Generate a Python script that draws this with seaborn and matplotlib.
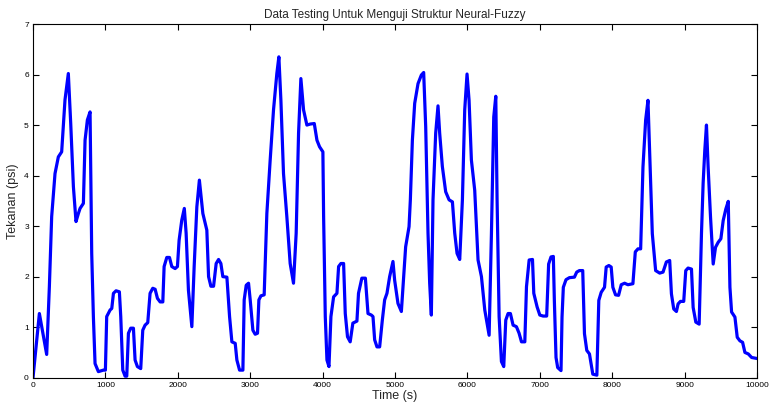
import matplotlib
matplotlib.use("Agg")
import matplotlib.pyplot as plt
import seaborn as sns
import pandas as pd

# Pressure test record (time in seconds, pressure in psi)
time_s = [
    0, 88, 189, 226, 258, 304, 350, 396, 442, 488,
    521, 558, 594, 627, 650, 696, 719, 751, 788, 811,
    834, 857, 903, 972, 1000, 1018, 1065, 1088, 1111, 1147,
    1193, 1212, 1240, 1272, 1295, 1318, 1350, 1387, 1410, 1442,
    1488, 1516, 1548, 1585, 1617, 1654, 1687, 1719, 1756, 1793,
    1811, 1848, 1885, 1917, 1963, 1995, 2018, 2055, 2090, 2115,
    2147, 2194, 2226, 2263, 2298, 2346, 2401, 2425, 2457, 2494,
    2530, 2563, 2595, 2622, 2678, 2715, 2747, 2793, 2816, 2853,
    2899, 2917, 2945, 2977, 3000, 3037, 3069, 3101, 3120, 3148,
    3193, 3230, 3276, 3322, 3368, 3396, 3424, 3460, 3506, 3552,
    3598, 3635, 3668, 3700, 3737, 3783, 3829, 3885, 3922, 3958,
    4004, 4014, 4037, 4060, 4088, 4115, 4152, 4198, 4221, 4253,
    4290, 4313, 4344, 4381, 4418, 4474, 4496, 4542, 4591, 4627,
    4673, 4696, 4719, 4751, 4788, 4825, 4857, 4889, 4926, 4972,
    4995, 5041, 5088, 5111, 5147, 5194, 5212, 5240, 5272, 5318,
    5364, 5396, 5424, 5456, 5479, 5502, 5525, 5562, 5594, 5617,
    5654, 5700, 5747, 5793, 5825, 5857, 5894, 5931, 5963, 5995,
    6023, 6055, 6101, 6147, 6194, 6240, 6300, 6332, 6364, 6392,
    6410, 6438, 6470, 6502, 6530, 6562, 6594, 6631, 6677, 6714,
    6747, 6793, 6816, 6853, 6899, 6917, 6963, 7000, 7046, 7095,
    7122, 7155, 7187, 7201, 7224, 7247, 7293, 7307, 7325, 7362,
    7409, 7478, 7510, 7547, 7593, 7617, 7649, 7686, 7709, 7732,
    7788, 7815, 7848, 7894, 7917, 7954, 7986, 8009, 8046, 8088,
    8125, 8171, 8217, 8286, 8319, 8356, 8393, 8425, 8462, 8494,
    8517, 8554, 8600, 8656, 8702, 8748, 8794, 8818, 8850, 8887,
    8910, 8942, 8988, 9016, 9048, 9095, 9118, 9155, 9201, 9233,
    9256, 9279, 9302, 9325, 9358, 9395, 9427, 9464, 9501, 9533,
    9570, 9603, 9626, 9649, 9695, 9727, 9764, 9801, 9833, 9880,
    9926, 10000,
]
tekanan_psi = [
    0.00, 1.27, 0.46, 1.80, 3.19, 4.04, 4.37, 4.47, 5.50, 6.02,
    5.03, 3.78, 3.09, 3.25, 3.35, 3.45, 4.70, 5.10, 5.26, 2.46,
    1.21, 0.28, 0.12, 0.15, 0.15, 1.21, 1.34, 1.37, 1.67, 1.72,
    1.70, 1.21, 0.15, 0.03, 0.03, 0.88, 0.98, 0.98, 0.35, 0.22,
    0.18, 0.94, 1.04, 1.09, 1.67, 1.77, 1.75, 1.57, 1.50, 1.50,
    2.20, 2.38, 2.38, 2.20, 2.16, 2.20, 2.72, 3.12, 3.35, 2.86,
    1.73, 1.01, 2.20, 3.38, 3.91, 3.25, 2.92, 2.00, 1.81, 1.81,
    2.26, 2.34, 2.26, 2.00, 1.99, 1.21, 0.71, 0.68, 0.35, 0.15,
    0.15, 1.54, 1.83, 1.87, 1.54, 0.94, 0.86, 0.88, 1.54, 1.62,
    1.64, 3.25, 4.31, 5.30, 6.02, 6.35, 5.49, 4.04, 3.19, 2.26,
    1.87, 2.86, 4.84, 5.92, 5.30, 5.00, 5.02, 5.03, 4.70, 4.57,
    4.47, 3.19, 1.21, 0.35, 0.22, 1.21, 1.60, 1.67, 2.20, 2.26,
    2.26, 1.27, 0.81, 0.71, 1.08, 1.12, 1.67, 1.97, 1.97, 1.27,
    1.24, 1.21, 0.75, 0.61, 0.61, 1.14, 1.54, 1.67, 2.00, 2.30,
    1.93, 1.47, 1.31, 1.80, 2.59, 2.99, 3.52, 4.70, 5.43, 5.82,
    5.99, 6.04, 4.97, 2.86, 1.87, 1.24, 3.52, 4.84, 5.38, 4.84,
    4.18, 3.68, 3.52, 3.48, 2.86, 2.46, 2.34, 3.52, 5.30, 6.01,
    5.49, 4.31, 3.71, 2.33, 2.00, 1.34, 0.84, 2.86, 5.16, 5.57,
    3.52, 1.21, 0.32, 0.22, 1.14, 1.27, 1.27, 1.04, 1.01, 0.88,
    0.71, 0.71, 1.80, 2.33, 2.34, 1.67, 1.40, 1.24, 1.22, 1.22,
    2.25, 2.39, 2.40, 1.53, 0.40, 0.20, 0.14, 1.20, 1.79, 1.94,
    1.98, 1.99, 2.09, 2.12, 2.12, 0.87, 0.54, 0.47, 0.27, 0.07,
    0.05, 1.53, 1.69, 1.79, 2.19, 2.22, 2.19, 1.79, 1.64, 1.63,
    1.84, 1.87, 1.84, 1.86, 2.49, 2.55, 2.55, 4.17, 5.10, 5.49,
    4.50, 2.85, 2.12, 2.07, 2.09, 2.29, 2.32, 1.66, 1.36, 1.31,
    1.46, 1.51, 1.51, 2.12, 2.17, 2.15, 1.39, 1.10, 1.06, 2.85,
    3.85, 4.50, 5.00, 4.17, 3.18, 2.25, 2.58, 2.68, 2.75, 3.11,
    3.34, 3.49, 1.79, 1.30, 1.20, 0.80, 0.73, 0.70, 0.50, 0.47,
    0.40, 0.38,
]
x_ticks = [0, 1000, 2000, 3000, 4000, 5000, 6000, 7000, 8000, 9000, 10000]
y_ticks = [0, 1, 2, 3, 4, 5, 6, 7]

sns.set_style("ticks")
plt.rcParams["font.family"] = ["Liberation Sans", "DejaVu Sans"]

df = pd.DataFrame({"Time (s)": time_s, "Tekanan (psi)": tekanan_psi})

fig = plt.figure(figsize=(7.7, 4.05), dpi=100)
ax = fig.add_axes([33 / 770, 27.3 / 405, 724 / 770, 353.7 / 405])

sns.lineplot(data=df, x="Time (s)", y="Tekanan (psi)", ax=ax,
             color="#0000ff", linewidth=2.3, sort=False, estimator=None)

ax.set_xlim(0, 10000)
ax.set_ylim(0, 7)
ax.set_xticks(x_ticks)
ax.set_yticks(y_ticks)
ax.tick_params(direction="in", length=4, width=0.8, labelsize=6,
               top=True, right=True, colors="black", pad=3)
for side in ax.spines.values():
    side.set_visible(True)
    side.set_color("black")
    side.set_linewidth(0.8)

ax.set_title("Data Testing Untuk Menguji Struktur Neural-Fuzzy",
             fontsize=8.5, pad=4)
ax.set_xlabel("Time (s)", fontsize=9, labelpad=1)
ax.set_ylabel("Tekanan (psi)", fontsize=9, labelpad=4)

fig.savefig("out.png", dpi=100)
